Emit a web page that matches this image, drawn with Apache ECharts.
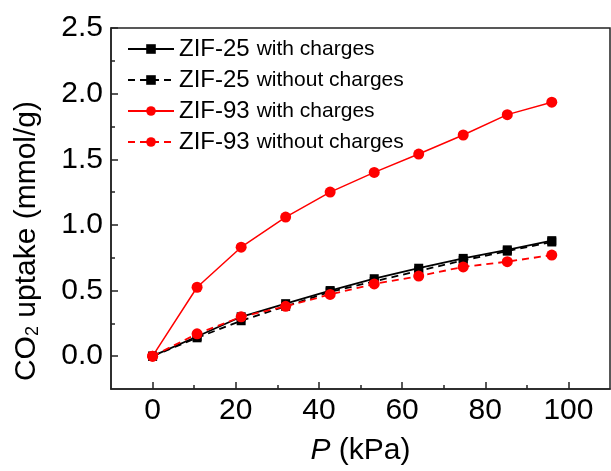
<!DOCTYPE html>
<html><head><meta charset="utf-8">
<script src="https://cdn.jsdelivr.net/npm/echarts@6/dist/echarts.min.js"></script>
<style>html,body{margin:0;padding:0;background:#fff}#c{width:611px;height:471px}</style>
</head><body><div id="c"></div>
<script>
const pressure = [0, 10.7, 21.3, 32, 42.7, 53.3, 64, 74.7, 85.3, 96];
const zif25With = [0, 0.15, 0.30, 0.40, 0.50, 0.59, 0.67, 0.745, 0.81, 0.88];
const zif25Without = [0, 0.14, 0.27, 0.38, 0.49, 0.57, 0.65, 0.73, 0.80, 0.87];
const zif93With = [0, 0.525, 0.83, 1.06, 1.25, 1.40, 1.54, 1.685, 1.84, 1.935];
const zif93Without = [0, 0.17, 0.30, 0.38, 0.47, 0.55, 0.61, 0.68, 0.72, 0.77];
const seriesNames = ['ZIF-25 with charges', 'ZIF-25 without charges', 'ZIF-93 with charges', 'ZIF-93 without charges'];
const xTicks = [0, 20, 40, 60, 80, 100];
const xMinorTicks = [10, 30, 50, 70, 90];
const yTicks = [0, 0.5, 1, 1.5, 2, 2.5];
const yMinorTicks = [0.25, 0.75, 1.25, 1.75, 2.25];

const FONT = '"Liberation Sans", Arial, sans-serif';
const AX = '#222';
const pairs = arr => pressure.map((p, i) => [p, arr[i]]);

const chart = echarts.init(document.getElementById('c'), null, {renderer: 'canvas'});
function mkSeries(name, data, color, symbol, size, dashed, width) {
  return {
    name, type: 'line', data: pairs(data), xAxisIndex: 0, yAxisIndex: 0,
    symbol, symbolSize: size, showSymbol: true,
    lineStyle: {color, width, type: dashed ? [7, 5] : 'solid'},
    itemStyle: {color, borderWidth: 0},
    emphasis: {disabled: true}, animation: false
  };
}
const xBase = {type: 'value', min: -10, max: 110, position: 'bottom', gridIndex: 0};
const yBase = {type: 'value', min: -0.25, max: 2.5, position: 'left', gridIndex: 0};
chart.setOption({
  animation: false,
  backgroundColor: '#fff',
  grid: {left: 111, right: 1, top: 28, bottom: 80, show: true, borderColor: AX, borderWidth: 1.5, backgroundColor: 'transparent'},
  xAxis: [
    Object.assign({}, xBase, {
      name: '{i|P} (kPa)', nameLocation: 'middle', nameGap: 47,
      nameTextStyle: {fontFamily: FONT, fontSize: 30, color: '#000',
        rich: {i: {fontFamily: FONT, fontSize: 30, fontStyle: 'italic', color: '#000'}}},
      axisLine: {show: true, onZero: false, lineStyle: {color: AX, width: 1.5}},
      axisTick: {show: true, inside: true, length: 7, lineStyle: {color: AX, width: 1.5}, customValues: xTicks},
      axisLabel: {show: true, margin: 7, fontFamily: FONT, fontSize: 30, color: '#000', customValues: xTicks},
      splitLine: {show: false}
    }),
    Object.assign({}, xBase, {
      axisLine: {show: false, onZero: false},
      axisTick: {show: true, inside: true, length: 4, lineStyle: {color: AX, width: 1.5}, customValues: xMinorTicks},
      axisLabel: {show: false},
      splitLine: {show: false}
    })
  ],
  yAxis: [
    Object.assign({}, yBase, {
      axisLine: {show: true, onZero: false, lineStyle: {color: AX, width: 1.5}},
      axisTick: {show: true, inside: true, length: 7, lineStyle: {color: AX, width: 1.5}, customValues: yTicks},
      axisLabel: {show: true, margin: 8, fontFamily: FONT, fontSize: 30, color: '#000', customValues: yTicks,
        formatter: v => Number(v).toFixed(1)},
      splitLine: {show: false}
    }),
    Object.assign({}, yBase, {
      axisLine: {show: false, onZero: false},
      axisTick: {show: true, inside: true, length: 4, lineStyle: {color: AX, width: 1.5}, customValues: yMinorTicks},
      axisLabel: {show: false},
      splitLine: {show: false}
    })
  ],
  legend: {
    orient: 'vertical', left: 122, top: 32, itemWidth: 46, itemHeight: 12, itemGap: 7,
    data: seriesNames,
    formatter: n => n.replace(/^(ZIF-\d+) (.*)$/, '{a|$1}{g|}{b|$2}'),
    textStyle: {fontFamily: FONT, color: '#000',
      rich: {a: {fontFamily: FONT, fontSize: 24, lineHeight: 26, color: '#000'},
             g: {width: 7, height: 1},
             b: {fontFamily: FONT, fontSize: 21, lineHeight: 26, color: '#000'}}}
  },
  graphic: [{
    type: 'text', x: 27, y: 241, rotation: Math.PI / 2,
    style: {
      text: '{a|CO}{s|2}{a| uptake (mmol/g)}',
      align: 'center', verticalAlign: 'middle',
      rich: {
        a: {fontFamily: FONT, fontSize: 30, lineHeight: 30, verticalAlign: 'top', fill: '#000'},
        s: {fontFamily: FONT, fontSize: 18, lineHeight: 18, verticalAlign: 'bottom', fill: '#000'}
      }
    }
  }],
  series: [
    mkSeries(seriesNames[0], zif25With, '#000', 'rect', 9, false, 1.8),
    mkSeries(seriesNames[1], zif25Without, '#000', 'rect', 9, true, 1.8),
    mkSeries(seriesNames[2], zif93With, '#ff0000', 'circle', 11, false, 1.5),
    mkSeries(seriesNames[3], zif93Without, '#ff0000', 'circle', 11, true, 1.8)
  ]
});
</script></body></html>
